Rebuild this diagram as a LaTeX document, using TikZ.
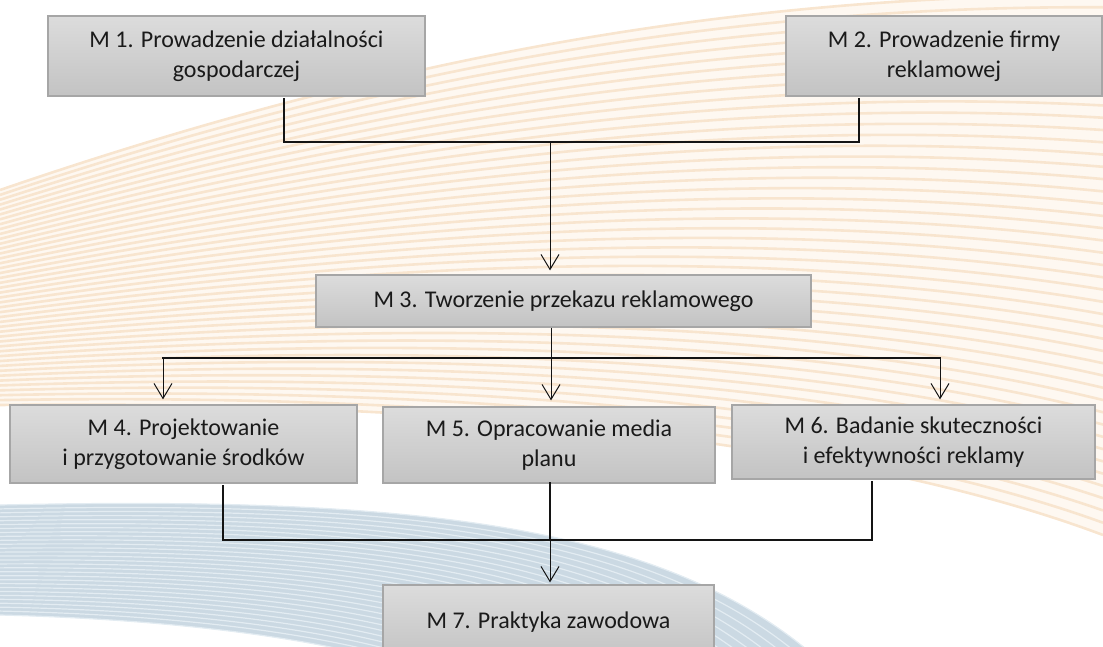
\documentclass[tikz,border=0pt]{standalone}
\usepackage{fontspec}
\setmainfont{Carlito}
\usetikzlibrary{arrows.meta,calc}
\definecolor{boxtop}{HTML}{DCDCDC}
\definecolor{boxbot}{HTML}{C3C3C3}
\definecolor{boxline}{HTML}{A6A6A6}
\definecolor{txt}{HTML}{1A1A1A}
\definecolor{orbase}{HTML}{FEF8F1}
\definecolor{orstripe}{HTML}{F8E5CF}
\definecolor{blbase}{HTML}{CBD9E3}
\definecolor{blstripe}{HTML}{E3ECF2}
\tikzset{
 box/.style={draw=boxline, line width=1.2pt, top color=boxtop, bottom color=boxbot, inner sep=0pt, align=center, text=txt, font=\fontsize{24}{29.5}\selectfont},
 bus/.style={line width=2.6pt, draw=black!92, line cap=rect},
 flow/.style={line width=1pt, draw=black!92, -{Straight Barb[length=15pt,width=18pt]}},
}
\begin{document}
\begin{tikzpicture}[x=1pt,y=-1pt]
\useasboundingbox (0,0) rectangle (1103,646);
\clip (0,0) rectangle (1103,646);
% orange striped band
\fill[orbase] (0,190) .. controls (350,70) and (700,-5) .. (1103,-5) -- (1103,535) .. controls (850,440) and (450,400) .. (0,405) -- cycle;
\foreach \i in {0,...,44}{
  \pgfmathsetmacro{\t}{\i/44}
  \draw[orstripe, line width=2.6pt] (0,{190+215*\t}) .. controls ({350+100*\t},{70+330*\t}) and ({700+150*\t},{-5+445*\t}) .. (1103,{-5+540*\t});
}
% blue striped band
\fill[blbase] (0,505) .. controls (450,495) and (700,530) .. (850,690) -- (470,690) .. controls (380,645) and (200,620) .. (0,615) -- cycle;
\foreach \i in {0,...,28}{
  \pgfmathsetmacro{\t}{\i/28}
  \draw[blstripe, line width=1.2pt] (0,{505+110*\t}) .. controls ({450-250*\t},{495+125*\t}) and ({700-320*\t},{530+115*\t}) .. ({850-380*\t},690);
}
% boxes
\node[box, minimum width=377pt, minimum height=80pt] (m1) at (236.5,56) {M 1. Prowadzenie działalności\\gospodarczej};
\node[box, minimum width=316pt, minimum height=80pt] (m2) at (944,56) {M 2. Prowadzenie firmy\\reklamowej};
\node[box, minimum width=495pt, minimum height=52pt] (m3) at (563.5,301) {M 3. Tworzenie przekazu reklamowego};
\node[box, minimum width=347pt, minimum height=78pt] (m4) at (183.5,444) {M 4. Projektowanie\\i przygotowanie środków};
\node[box, minimum width=332pt, minimum height=76pt] (m5) at (549,445) {M 5. Opracowanie media\\planu};
\node[box, minimum width=363pt, minimum height=74pt] (m6) at (913.5,442) {M 6. Badanie skuteczności\\i efektywności reklamy};
\node[box, minimum width=331pt, minimum height=75pt] (m7) at (548.5,622.5) {M 7. Praktyka zawodowa};
% connectors
\coordinate (j1) at (550,142);
\coordinate (j2) at (551,358);
\coordinate (b4) at (163,358);
\coordinate (b6) at (940,358);
\coordinate (j3) at (550,540);
\draw[bus] ([xshift=47.5pt,yshift=-3pt]m1.south) |- (j1) -| ([xshift=-85pt,yshift=-3pt]m2.south);
\draw[flow, shorten >=4pt] (j1) -- (j1 |- m3.north);
\draw[bus] (b4) -- (b6);
\draw[flow, shorten >=6pt] (m3.south -| j2) -- (j2 |- m5.north);
\draw[flow, shorten >=5pt] (b4) -- (b4 |- m4.north);
\draw[flow, shorten >=5pt] (b6) -- (b6 |- m6.north);
\draw[bus] ([xshift=39.5pt,yshift=-3pt]m4.south) |- (j3) -| ([xshift=-41.5pt,yshift=-3pt]m6.south);
\draw[bus] (m5.south -| j3) -- (j3);
\draw[flow, shorten >=2pt] (j3) -- (j3 |- m7.north);
\end{tikzpicture}
\end{document}
